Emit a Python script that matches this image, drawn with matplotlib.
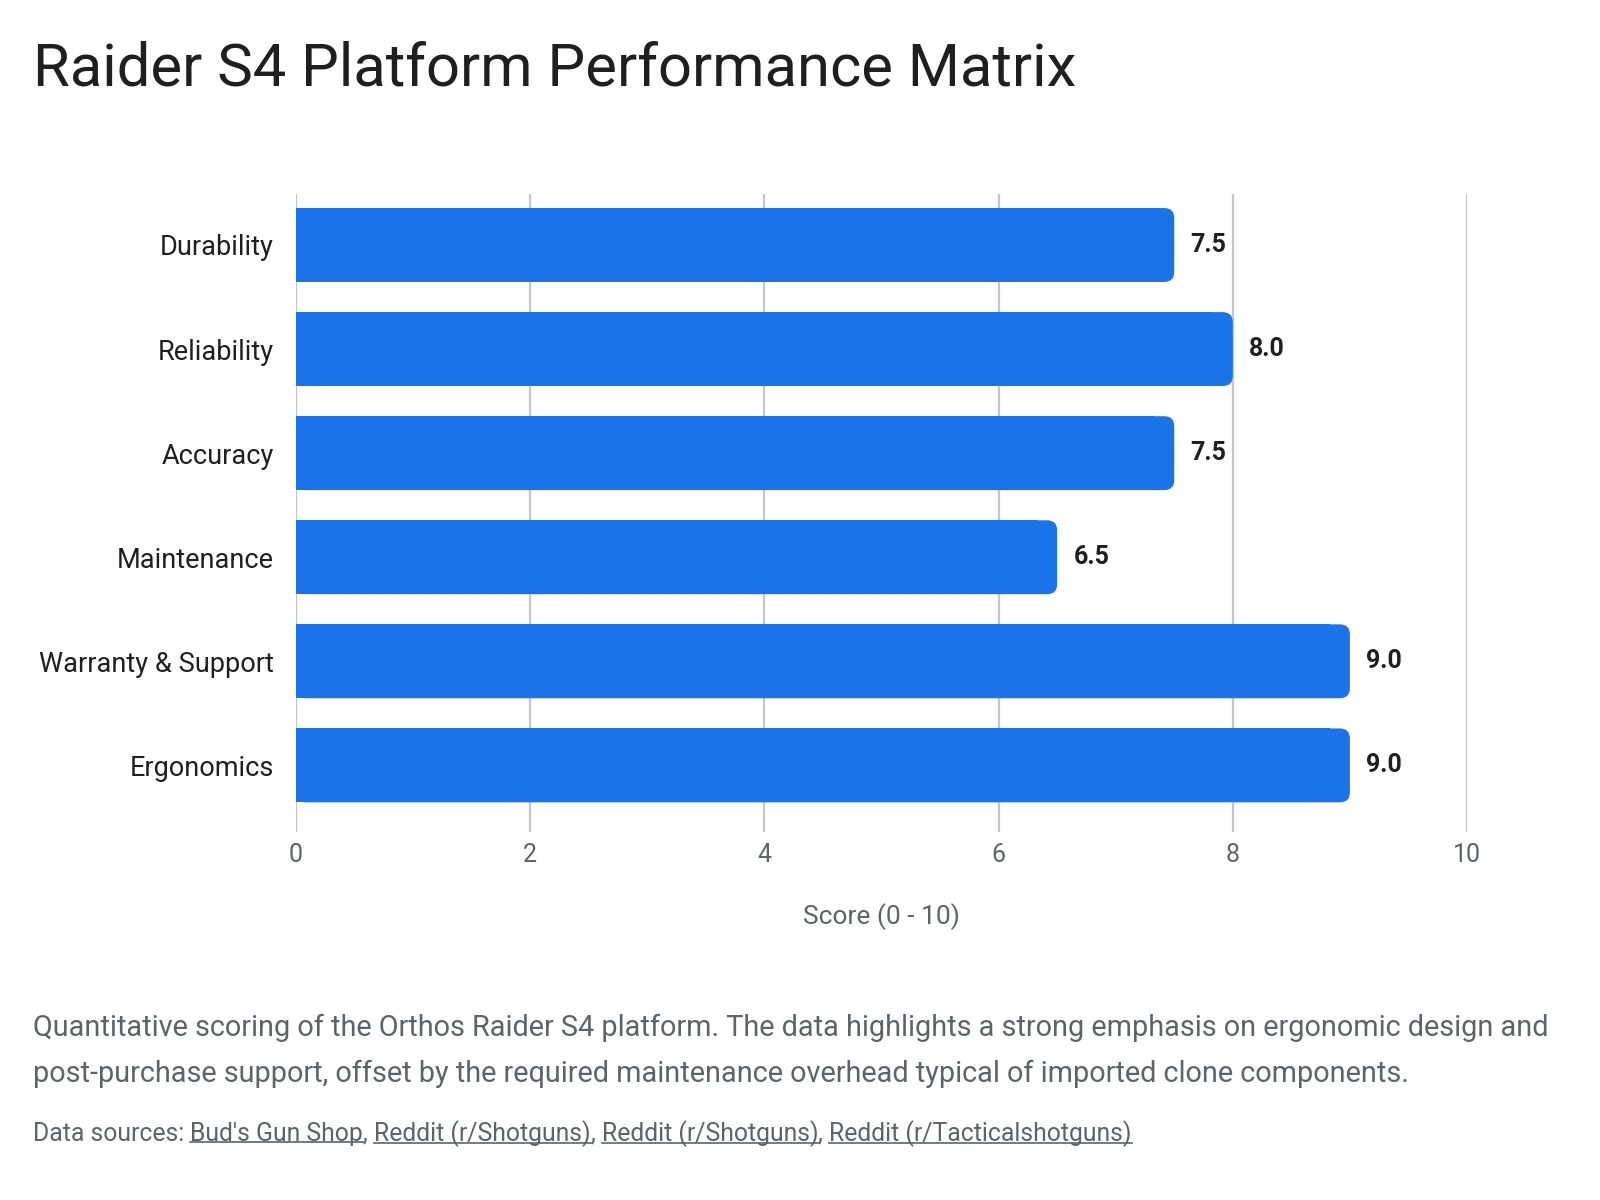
import matplotlib
matplotlib.use("Agg")
import matplotlib.pyplot as plt
from matplotlib.patches import FancyBboxPatch
from matplotlib.lines import Line2D

categories = ["Durability", "Reliability", "Accuracy", "Maintenance",
              "Warranty & Support", "Ergonomics"]
scores = [7.5, 8.0, 7.5, 6.5, 9.0, 9.0]
x_ticks = [0, 2, 4, 6, 8, 10]

title = "Raider S4 Platform Performance Matrix"
x_label = "Score (0 - 10)"
caption = ("Quantitative scoring of the Orthos Raider S4 platform. The data highlights a strong emphasis on ergonomic design and\n"
           "post-purchase support, offset by the required maintenance overhead typical of imported clone components.")
sources_prefix = "Data sources: "
sources = ["Bud's Gun Shop", "Reddit (r/Shotguns)", "Reddit (r/Shotguns)", "Reddit (r/Tacticalshotguns)"]

BLUE = "#1a73e8"
GRID = "#c6c6c6"
DARK = "#1f1f1f"
GRAY = "#5f6368"

plt.rcParams["font.family"] = ["Roboto", "DejaVu Sans"]

fig = plt.figure(figsize=(16, 12), dpi=100)
W, H = 1600, 1200
ax = fig.add_axes([296 / W, 1 - 832 / H, (1467 - 296) / W, (832 - 194) / H])

bar_h = 0.71
y = list(range(len(categories)))
# px per data unit, used to keep the rounded corners circular
px_x = (1467 - 296) / 10.0
px_y = (832 - 194) / 6.13
r = 10 / px_x
for yi, v in zip(y, scores):
    ax.barh(yi, v - 2 * r, height=bar_h, color=BLUE, zorder=3)
    p = FancyBboxPatch((0, yi - bar_h / 2), v, bar_h,
                       boxstyle=f"round,pad=0,rounding_size={r}",
                       mutation_aspect=px_x / px_y,
                       facecolor=BLUE, edgecolor="none", zorder=3)
    ax.add_patch(p)
    ax.text(v + 0.14, yi, f"{v:.1f}", va="center", ha="left",
            fontsize=18, fontweight="bold", color=DARK, zorder=4)

ax.set_xlim(0, 10)
ax.set_ylim(5.64, -0.49)
ax.set_xticks(x_ticks)
ax.set_xticklabels([str(t) for t in x_ticks])
ax.set_yticks(y)
ax.set_yticklabels(categories)
ax.tick_params(axis="y", length=0, pad=16, labelsize=19.5, labelcolor=DARK)
ax.tick_params(axis="x", length=0, pad=8, labelsize=18, labelcolor=GRAY)
ax.grid(axis="x", color=GRID, linewidth=1.6, zorder=0)
ax.set_axisbelow(True)
for s in ax.spines.values():
    s.set_visible(False)
ax.set_xlabel(x_label, fontsize=19, color=GRAY, labelpad=26)

fig.text(33 / W, 1 - 69 / H, title, fontsize=43, color=DARK, va="center", ha="left")
fig.text(33 / W, 1 - 1051 / H, caption, fontsize=20.8, color=GRAY, va="center",
         ha="left", linespacing=1.8)

# sources line with underlined links
fig.canvas.draw()
renderer = fig.canvas.get_renderer()
sy = 1 - 1134 / H
fs = 17.8
t = fig.text(33 / W, sy, sources_prefix, fontsize=fs, color=GRAY, va="center", ha="left")
bb = t.get_window_extent(renderer)
x = bb.x1
for i, s in enumerate(sources):
    lt = fig.text(x / W, sy, s, fontsize=fs, color=GRAY, va="center", ha="left")
    lb = lt.get_window_extent(renderer)
    uy = (lb.y0 + 4) / H
    fig.add_artist(Line2D([lb.x0 / W, lb.x1 / W], [uy, uy], color=GRAY, linewidth=1.2))
    x = lb.x1
    if i < len(sources) - 1:
        ct = fig.text(x / W, sy, ", ", fontsize=fs, color=GRAY, va="center", ha="left")
        x = ct.get_window_extent(renderer).x1

fig.savefig("out.png", dpi=100, facecolor="white")
